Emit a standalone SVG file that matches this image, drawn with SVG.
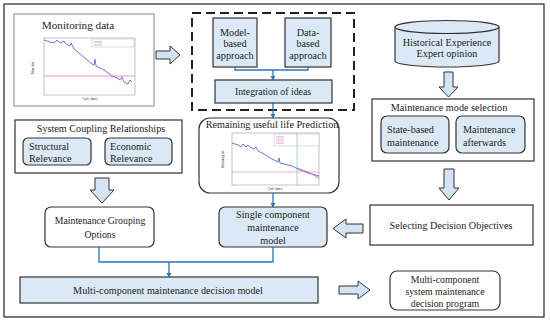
<svg xmlns="http://www.w3.org/2000/svg" width="550" height="321" viewBox="0 0 550 321" font-family="'Liberation Serif','DejaVu Serif',serif">
<defs>
<style>
text{font-family:'Liberation Serif','DejaVu Serif',serif;font-size:10.2px}
.t{fill:#222;text-anchor:middle}
.s{fill:#222;text-anchor:start}
.box{fill:#fff;stroke:#333;stroke-width:1.2}
.bl{fill:#dbe9f6;stroke:#333;stroke-width:1.2}
.con{fill:none;stroke:#2f74b5;stroke-width:1.3}
.ha{fill:#d3e5f4;stroke:#333;stroke-width:1}
.ax{fill:none;stroke:#888;stroke-width:0.5}
</style>
<marker id="ah" viewBox="0 0 6 6" refX="5" refY="3" markerWidth="4" markerHeight="4" orient="auto">
<path d="M0,0 L6,3 L0,6 z" fill="#2f74b5"/>
</marker>
</defs>
<rect x="0" y="0" width="550" height="321" fill="#fff"/>
<rect x="4" y="4" width="540" height="313" fill="none" stroke="#333" stroke-width="1.3"/>

<g id="monitoring">
<rect x="14" y="14" width="140" height="92" fill="#fff" stroke="#999" stroke-width="1.2"/>
<text class="t" x="78" y="29" style="font-size:11.2px">Monitoring data</text>
<rect x="44" y="38" width="91" height="57" class="ax"/>
<rect x="92" y="39" width="42" height="8" fill="#fff" stroke="#aaa" stroke-width="0.4"/>
<line x1="94" y1="42" x2="102" y2="42" stroke="#7b7be0" stroke-width="0.7"/>
<line x1="94" y1="45" x2="102" y2="45" stroke="#e07070" stroke-width="0.7"/>
<line x1="44" y1="76" x2="135" y2="76" stroke="#e98080" stroke-width="0.8"/>
<polyline fill="none" stroke="#7373e0" stroke-width="1" points="44,40 50,42 54,43 57,40 60,43 64,41 66,44 70,46 71,43 74,49 80,54 86,59 92,64 94,65 95,59 96,66 100,68 104,70 108,73 112,76 117,78 120,80 122,77 124,82 128,84 130,80 132,82"/>
<text class="t" x="34" y="68" style="font-size:3px" transform="rotate(-90 34 68)">Mass data</text>
<text class="t" x="90" y="100" style="font-size:3px">Cycle (time)</text>
</g>

<g id="coupling">
<rect x="15" y="120" width="167" height="53" class="box"/>
<text class="t" x="101" y="132">System Coupling Relationships</text>
<rect x="23" y="138" width="68" height="27" rx="5" class="bl"/>
<text class="s" x="29" y="150">Structural</text>
<text class="s" x="29" y="162">Relevance</text>
<rect x="105" y="138" width="67" height="27" rx="5" class="bl"/>
<text class="s" x="110" y="150">Economic</text>
<text class="s" x="110" y="162">Relevance</text>
</g>

<g id="grouping">
<rect x="45" y="207" width="109" height="40" rx="6" class="box"/>
<text class="t" x="100" y="224" style="font-size:9.8px">Maintenance Grouping</text>
<text class="t" x="100" y="238" style="font-size:9.8px">Options</text>
</g>

<g id="approaches">
<rect x="192" y="13" width="162" height="97" fill="none" stroke="#222" stroke-width="2" stroke-dasharray="9,5"/>
</g>
<g id="model-based">
<rect x="213" y="18" width="44" height="49" class="bl"/>
<text class="t" x="235" y="36">Model-</text>
<text class="t" x="235" y="47">based</text>
<text class="t" x="235" y="59">approach</text>
</g>
<g id="data-based">
<rect x="285" y="18" width="46" height="49" class="bl"/>
<text class="t" x="308" y="36">Data-</text>
<text class="t" x="308" y="47">based</text>
<text class="t" x="308" y="59">approach</text>
</g>
<g id="integration">
<rect x="215" y="80" width="117" height="23" class="bl"/>
<text class="t" x="273" y="95" style="font-size:9.8px">Integration of ideas</text>
</g>

<g id="rul">
<rect x="199" y="118" width="140" height="75" rx="11" class="box"/>
<text class="t" x="272" y="128">Remaining useful life Prediction</text>
<rect x="232" y="133" width="87" height="52" class="ax"/>
<rect x="274" y="134" width="45" height="12" fill="#fff" stroke="#aaa" stroke-width="0.4"/>
<line x1="276" y1="137" x2="284" y2="137" stroke="#8a8ae8" stroke-width="0.7"/>
<line x1="276" y1="140" x2="284" y2="140" stroke="#e070e0" stroke-width="0.7"/>
<line x1="276" y1="143" x2="284" y2="143" stroke="#e07070" stroke-width="0.7"/>
<line x1="232" y1="172" x2="319" y2="172" stroke="#f0a0a0" stroke-width="0.8"/>
<line x1="297" y1="133" x2="297" y2="185" stroke="#80d080" stroke-width="0.7"/>
<polyline fill="none" stroke="#7070dd" stroke-width="1" points="232,143 238,145 241,147 243,144 246,147 248,145 250,147 254,149 256,147 258,151 264,154 270,158 276,161 278,162 279,158 280,163 284,164 288,165 292,166 296,168 300,170 304,171 308,173 312,174 316,175 319,176"/>
<polyline fill="none" stroke="#e060e0" stroke-width="1" points="297,168 305,171 312,174 319,178"/>
<text class="t" x="224" y="159" style="font-size:3px" transform="rotate(-90 224 159)">Remaining life</text>
<text class="t" x="275" y="190" style="font-size:3px">Cycle (time)</text>
</g>

<g id="single">
<rect x="219" y="207" width="108" height="40" rx="6" class="bl"/>
<text class="t" x="273" y="218">Single component</text>
<text class="t" x="273" y="231">maintenance</text>
<text class="t" x="273" y="244">model</text>
</g>

<g id="history">
<path d="M395,27 L395,61 A52,6 0 0 0 499,61 L499,27" class="bl"/>
<ellipse cx="447" cy="27" rx="52" ry="6.5" class="bl"/>
<text class="t" x="447" y="46">Historical Experience</text>
<text class="t" x="447" y="57">Expert opinion</text>
</g>

<g id="mode">
<rect x="372" y="99" width="162" height="62" class="box"/>
<text class="t" x="449" y="111">Maintenance mode selection</text>
<rect x="381" y="116" width="68" height="37" rx="6" class="bl"/>
<text class="s" x="387" y="133">State-based</text>
<text class="s" x="387" y="146">maintenance</text>
<rect x="456" y="116" width="69" height="37" rx="6" class="bl"/>
<text class="s" x="463" y="133">Maintenance</text>
<text class="s" x="463" y="146">afterwards</text>
</g>

<g id="objectives">
<rect x="370" y="205" width="163" height="40" class="box"/>
<text class="t" x="451" y="229">Selecting Decision Objectives</text>
</g>

<g id="multi">
<rect x="20" y="277" width="298" height="26" class="bl"/>
<text class="t" x="168" y="294">Multi-component maintenance decision model</text>
</g>

<g id="program">
<rect x="390" y="271" width="110" height="39" rx="7" class="box"/>
<text class="t" x="445" y="283" style="font-size:9.8px">Multi-component</text>
<text class="t" x="445" y="295" style="font-size:9.8px">system maintenance</text>
<text class="t" x="445" y="307" style="font-size:9.8px">decision program</text>
</g>

<g id="connectors">
<polyline class="con" points="235,67 235,70 308,70 308,67"/>
<line class="con" x1="273" y1="70" x2="273" y2="80" marker-end="url(#ah)"/>
<line class="con" x1="273" y1="103" x2="273" y2="118" marker-end="url(#ah)"/>
<line class="con" x1="273" y1="193" x2="273" y2="207" marker-end="url(#ah)"/>
<polyline class="con" points="99,247 99,262 273,262 273,247"/>
<line class="con" x1="169" y1="262" x2="169" y2="277" marker-end="url(#ah)"/>
<path class="ha" d="M156,51 L170,51 L170,46 L180,55 L170,64 L170,59 L156,59 Z"/>
<path class="ha" d="M444,72 L453,72 L453,87 L458,87 L448.5,97 L439,87 L444,87 Z"/>
<path class="ha" d="M444,169 L454,169 L454,188 L459,188 L449,200 L439,188 L444,188 Z"/>
<path class="ha" d="M95,178 L109,178 L109,190 L114,190 L102,203 L90,190 L95,190 Z"/>
<path class="ha" d="M363,224 L346,224 L346,219 L333,228.5 L346,238 L346,233 L363,233 Z"/>
<path class="ha" d="M339,286 L358,286 L358,281 L370,290 L358,299 L358,294 L339,294 Z"/>
</g>
</svg>
